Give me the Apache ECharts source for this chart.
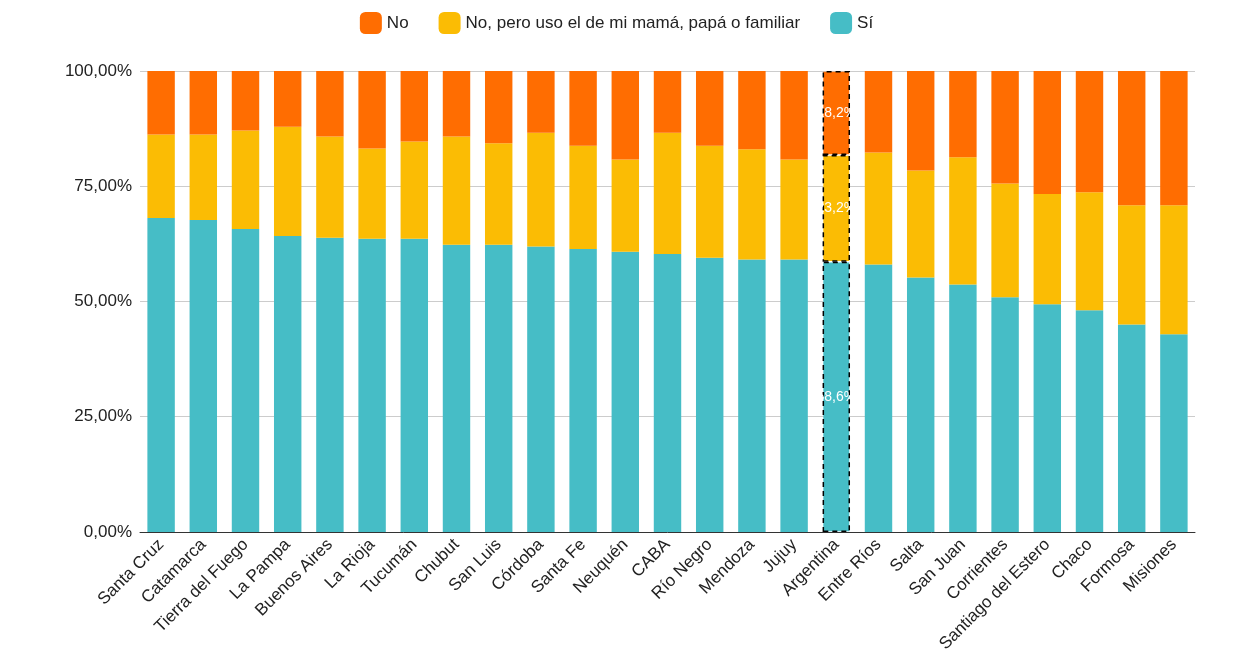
<!DOCTYPE html>
<html><head><meta charset="utf-8">
<script src="https://cdn.jsdelivr.net/npm/echarts@6/dist/echarts.min.js"></script>
<style>html,body{margin:0;padding:0;background:#fff}#c{width:1233px;height:655px}</style>
</head><body><div id="c"></div>
<script>
const categories=["Santa Cruz","Catamarca","Tierra del Fuego","La Pampa","Buenos Aires","La Rioja","Tucumán","Chubut","San Luis","Córdoba","Santa Fe","Neuquén","CABA","Río Negro","Mendoza","Jujuy","Argentina","Entre Ríos","Salta","San Juan","Corrientes","Santiago del Estero","Chaco","Formosa","Misiones"];
const si=[68.1,67.7,65.7,64.2,63.8,63.6,63.6,62.3,62.3,61.9,61.4,60.8,60.3,59.5,59.1,59.1,58.6,58.0,55.2,53.7,50.9,49.4,48.1,45.0,42.9];
const noPero=[18.1,18.5,21.4,23.7,22.0,19.6,21.1,23.5,22.0,24.7,22.4,20.0,26.3,24.3,23.9,21.7,23.2,24.3,23.2,27.6,24.7,23.9,25.6,25.9,28.0];
const no=[13.8,13.8,12.9,12.1,14.2,16.8,15.3,14.2,15.7,13.4,16.2,19.2,13.4,16.2,17.0,19.2,18.2,17.7,21.6,18.7,24.4,26.7,26.3,29.1,29.1];
const hl="Argentina";
function mk(arr){return arr.map((v,i)=>categories[i]===hl?{value:v,itemStyle:{borderColor:'#000',borderWidth:1.5,borderType:[5,4]},label:{show:true,color:'#fff',fontSize:14,fontFamily:'Arial, Liberation Sans',formatter:p=>p.value.toFixed(1).replace('.',',')+'%'}}:v);}
const font='Liberation Sans, Arial';
const chart=echarts.init(document.getElementById('c'));
chart.setOption({
 animation:false,
 legend:{top:7,left:'center',itemWidth:22,itemHeight:22,itemGap:30,textStyle:{fontSize:17,fontFamily:font,color:'#222'},
  data:['No','No, pero uso el de mi mamá, papá o familiar','Sí']},
 grid:{left:140,right:38,top:71,bottom:120},
 xAxis:{type:'category',data:categories,axisTick:{show:false},axisLine:{lineStyle:{color:'#333'}},
  axisLabel:{rotate:45,interval:0,fontSize:17,fontFamily:font,color:'#222',margin:10}},
 yAxis:{type:'value',min:0,max:100,interval:25,axisLabel:{fontSize:17,fontFamily:font,color:'#222',formatter:v=>v.toFixed(2).replace('.',',')+'%'},
  splitLine:{lineStyle:{color:'#ccc'}}},
 series:[
  {name:'Sí',type:'bar',stack:'a',data:mk(si),barWidth:'65%',itemStyle:{color:'#46bdc6'},label:{show:false,position:'inside'}},
  {name:'No, pero uso el de mi mamá, papá o familiar',type:'bar',stack:'a',data:mk(noPero),itemStyle:{color:'#fbbc04'},label:{show:false,position:'inside'}},
  {name:'No',type:'bar',stack:'a',data:mk(no),itemStyle:{color:'#ff6d01'},label:{show:false,position:'inside'}}
 ]
});
</script></body></html>
